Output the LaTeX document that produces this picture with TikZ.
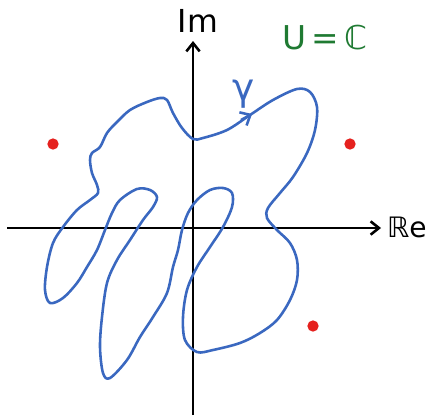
\documentclass[tikz,border=0pt]{standalone}
\usepackage{fontspec}
\setmainfont{DejaVu Sans}
\usetikzlibrary{arrows.meta}
\definecolor{curveblue}{HTML}{3A68C0}
\definecolor{setgreen}{HTML}{1F7A32}
\definecolor{polered}{HTML}{E5211E}

\begin{document}
\begin{tikzpicture}[x=0.03cm, y=-0.03cm,
    axis/.style={line width=2.5pt, -{Straight Barb[length=2.5mm, width=4mm, line width=2.2pt]}},
    loop/.style={draw=curveblue, line width=2.2pt, line join=round},
    pole/.style={fill=polered, circle, inner sep=0pt, minimum size=3.4mm}]
  \useasboundingbox (0,0) rectangle (428,416);

  % axes
  \coordinate (xl) at (7,228);
  \coordinate (xr) at (381,228);
  \coordinate (yb) at (193,415);
  \coordinate (yt) at (193,41);
  \draw[axis] (xl) -- (xr);
  \draw[axis] (yb) -- (yt);
  \node[anchor=east, inner sep=0pt] (re) at (427,227) {\fontsize{24}{28}\selectfont ℝe};
  \node (im) at (198,21) {\fontsize{27}{30}\selectfont Im};
  \node[text=setgreen] (uset) at (325,38) {\fontsize{28}{32}\selectfont U\,=\,ℂ};

  % the closed curve gamma
  \draw[loop] plot[smooth cycle, tension=0.55] coordinates {
    (193,139) (203,138) (227,130) (250,115) (273,100) (297,89) (310,92)
    (317,107) (315,130) (307,153) (293,177) (280,193) (268,208) (267,218)
    (277,230) (290,243) (297,260) (297,280) (290,300) (277,320) (260,333)
    (240,343) (213,350) (197,352) (185,340) (183,317) (187,290) (197,267)
    (210,247) (223,227) (232,207) (232,193) (223,188) (210,190) (197,200)
    (188,213) (182,230) (178,250) (173,267) (167,293) (153,317) (140,337)
    (127,360) (110,378) (103,373) (100,347) (102,317) (107,283) (117,260)
    (130,240) (143,220) (153,207) (157,197) (150,190) (137,189) (120,200)
    (112,213) (105,230) (97,250) (87,267) (77,283) (63,298) (50,303)
    (45,290) (47,267) (53,243) (63,227) (77,210) (90,200) (98,193)
    (97,185) (92,173) (90,160) (92,153) (100,147) (107,133) (117,122)
    (130,110) (147,102) (160,98) (167,100) (173,113) (182,128)};
  \coordinate (tipa) at (241,120);
  \coordinate (tipb) at (252,114);
  \draw[loop, -{Straight Barb[length=2.5mm, width=4.5mm, line width=2.2pt]}] (tipa) -- (tipb);
  \node[text=curveblue] (gamma) at (244,94) {\fontsize{32}{36}\selectfont γ};

  % points outside
  \node[pole] (p1) at (53,144) {};
  \node[pole] (p2) at (350,144) {};
  \node[pole] (p3) at (313,326) {};
\end{tikzpicture}
\end{document}
